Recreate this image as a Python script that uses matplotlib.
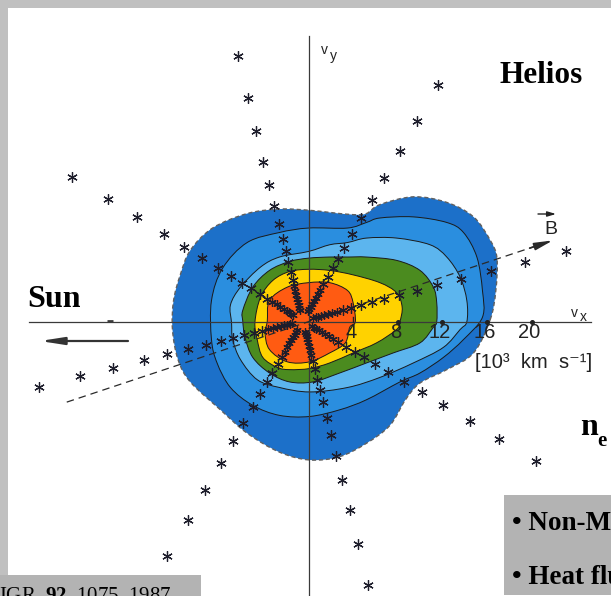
import numpy as np
import matplotlib
matplotlib.use("Agg")
import matplotlib.pyplot as plt
from matplotlib.path import Path
from matplotlib.patches import PathPatch, Rectangle

plt.rcParams['mathtext.fontset'] = 'custom'
plt.rcParams['mathtext.rm'] = 'Liberation Serif'
plt.rcParams['mathtext.bf'] = 'Liberation Serif:bold'

# ---------------- data (velocities in 10^3 km/s) ----------------
contour_1 = [(16.3, 0.2), (16.8, 2.8), (16.9, 5.7), (16.3, 7.3), (14.8, 9.4), (12.4, 10.7),
             (9.4, 11.2), (6.4, 10.5), (5.2, 9.7), (4.0, 9.6), (1.9, 9.8), (0.0, 10.0),
             (-2.6, 10.1), (-5.5, 9.7), (-8.6, 8.4), (-10.6, 6.4), (-11.5, 4.2), (-12.1, 1.9),
             (-12.2, -0.7), (-11.7, -3.4), (-10.6, -5.4), (-7.9, -7.9), (-5.5, -10.0),
             (-2.6, -11.7), (0.1, -12.4), (2.8, -12.1), (5.2, -10.9), (7.3, -9.3),
             (8.7, -7.0), (10.0, -5.5), (12.4, -4.3), (14.8, -2.8)]
contour_2 = [(15.6, 0.4), (15.6, 2.8), (15.1, 5.8), (13.9, 8.0), (12.4, 8.9), (9.4, 9.4),
             (6.4, 9.3), (5.2, 8.9), (3.5, 8.4), (0.0, 8.4), (-2.6, 8.0), (-5.5, 7.1),
             (-7.7, 4.8), (-8.7, 1.9), (-8.7, -1.6), (-8.2, -3.7), (-7.0, -5.9), (-5.0, -7.5),
             (-2.6, -8.4), (0.1, -8.5), (2.8, -7.9), (5.2, -7.0), (8.2, -5.4), (10.0, -4.6),
             (12.1, -3.2), (13.9, -1.6)]
contour_3 = [(14.2, 0.0), (14.2, 1.9), (13.6, 4.0), (12.4, 5.8), (10.9, 6.9), (7.9, 7.5),
             (5.2, 7.5), (3.5, 7.1), (1.9, 6.9), (0.0, 6.3), (-2.6, 5.8), (-4.3, 4.9),
             (-6.1, 3.1), (-7.0, 1.5), (-6.9, -0.1), (-6.8, -1.6), (-6.1, -3.4), (-4.6, -5.2),
             (-2.6, -5.9), (0.1, -6.3), (3.5, -5.9), (6.4, -5.0), (9.4, -3.7), (12.1, -2.3),
             (13.6, -0.7)]
contour_4 = [(11.5, 0.0), (11.5, 1.7), (11.2, 3.1), (10.0, 4.6), (7.9, 5.5), (5.2, 5.8),
             (3.5, 5.8), (1.9, 5.8), (0.0, 5.7), (-1.7, 5.4), (-3.5, 4.6), (-5.0, 3.1),
             (-5.9, 1.0), (-5.9, 0.1), (-5.7, -1.4), (-5.0, -3.2), (-3.5, -4.6), (-1.7, -5.4),
             (0.4, -5.4), (2.8, -4.6), (5.2, -3.7), (7.6, -2.8), (10.0, -1.9), (11.2, -0.5)]
contour_5 = [(8.2, 0.0), (8.4, 1.3), (7.9, 2.6), (6.4, 3.5), (4.0, 4.2), (1.9, 4.6), (0.0, 4.7),
             (-1.7, 4.5), (-3.2, 3.7), (-4.3, 2.2), (-4.8, 0.0), (-4.6, -1.6), (-4.1, -3.2),
             (-2.8, -4.1), (-1.7, -4.3), (0.1, -4.2), (1.9, -3.7), (4.0, -2.8), (6.1, -1.9),
             (7.9, -0.7)]
contour_6 = [(4.2, 0.0), (4.0, 1.7), (3.5, 2.8), (1.9, 3.5), (0.0, 3.5), (-1.9, 3.1),
             (-3.5, 1.9), (-3.7, 0.0), (-3.9, -1.0), (-3.5, -2.5), (-1.9, -3.6), (0.1, -3.6),
             (1.9, -2.8), (3.3, -1.9), (3.7, -0.5)]
contour_colors = ['#1c70c9', '#2a8edf', '#5cb5ee', '#4b8b1f', '#ffd200', '#ff5b12']

ray_angles_deg = [14.8, 60.2, 103.8, 148.0, 194.0, 240.0, 284.0, 329.0]
channel_speeds = [24.4, 20.6, 17.5, 14.7, 12.5, 10.6, 8.95, 7.55, 6.4, 5.45, 4.5, 3.75,
                  3.2, 2.75, 2.35, 2.0, 1.7, 1.45, 1.2, 1.0]
ray_center = (-0.53, 0.09)
b_field_angle_deg = 18.4
vx_ticks = [4, 8, 12, 16, 20]
vx_tick_labels = ['4', '8', '12', '16', '20']

# ---------------- layout ----------------
W, H = 611, 596
ORIGIN = (308.5, 321.7)
SCALE = 11.15  # pixels per unit

fig = plt.figure(figsize=(W / 100, H / 100), dpi=100)
fig.patch.set_facecolor('#c0c0c0')
ax = fig.add_axes([0, 0, 1, 1])
ax.set_xlim(-ORIGIN[0] / SCALE, (W - ORIGIN[0]) / SCALE)
ax.set_ylim(-(H - ORIGIN[1]) / SCALE, ORIGIN[1] / SCALE)
ax.axis('off')
ax.patch.set_visible(False)


def fx(px):
    return px / W


def fy(py):
    return 1 - py / H


serif = ['Liberation Serif', 'DejaVu Serif']
sans = ['Liberation Sans Narrow', 'Liberation Sans', 'DejaVu Sans']

# white panel
ax.add_patch(Rectangle((fx(8), 0), 1 - fx(8), fy(8), transform=ax.transAxes,
                       facecolor='white', edgecolor='none', zorder=0))


def smooth_closed_path(pts):
    P = np.asarray(pts, dtype=float)
    n = len(P)
    verts = [P[0]]
    codes = [Path.MOVETO]
    for i in range(n):
        p0, p1, p2, p3 = P[i - 1], P[i], P[(i + 1) % n], P[(i + 2) % n]
        verts += [p1 + (p2 - p0) / 6.0, p2 - (p3 - p1) / 6.0, p2]
        codes += [Path.CURVE4] * 3
    verts.append(P[0])
    codes.append(Path.CLOSEPOLY)
    return Path(verts, codes)


contours = [contour_1, contour_2, contour_3, contour_4, contour_5, contour_6]
for k, (pts, col) in enumerate(zip(contours, contour_colors)):
    path = smooth_closed_path(pts)
    ax.add_patch(PathPatch(path, facecolor=col, edgecolor='none', zorder=1 + k * 0.1))
    if k == 0:
        ax.add_patch(PathPatch(path, facecolor='none', edgecolor='#606060', lw=1.0,
                               linestyle=(0, (3, 2)), zorder=2))
    else:
        ax.add_patch(PathPatch(path, facecolor='none', edgecolor='#1a1a1a', lw=0.7, zorder=2))

# axes lines
ax.plot([(29 - ORIGIN[0]) / SCALE, (591 - ORIGIN[0]) / SCALE], [0, 0], color='#3a3a3a', lw=0.9, zorder=3)
ax.plot([0, 0], [-26, (ORIGIN[1] - 36) / SCALE], color='#3a3a3a', lw=0.9, zorder=3)
ax.plot([-18.1, -17.5], [0.08, 0.08], color='#3a3a3a', lw=2.0, zorder=3, solid_capstyle='butt')

# tick marks and labels on vx axis
ax.plot(vx_ticks[1:], [0] * (len(vx_ticks) - 1), 'o', ms=2.6, color='#222222', zorder=4)
ax.plot([vx_ticks[0], vx_ticks[0]], [0, 0.45], color='#222222', lw=1.0, zorder=4)
for v, lab in zip(vx_ticks, vx_tick_labels):
    ax.text(v - 0.2, -1.0, lab, ha='center', va='center', fontsize=14.5,
            family=sans, color='#222222', zorder=6)

ax.text(fx(475), fy(362), '[10³  km  s⁻¹]', transform=ax.transAxes, ha='left', va='center',
        fontsize=14.5, family=sans, color='#222222', zorder=6)

# axis names
ax.text(fx(321), fy(54), 'v', transform=ax.transAxes, ha='left', va='baseline',
        fontsize=10, family=sans, color='#222222')
ax.text(fx(330), fy(60), 'y', transform=ax.transAxes, ha='left', va='baseline',
        fontsize=10, family=sans, color='#222222')
ax.text(fx(571), fy(317), 'v', transform=ax.transAxes, ha='left', va='baseline',
        fontsize=10, family=sans, color='#222222')
ax.text(fx(580), fy(321), 'x', transform=ax.transAxes, ha='left', va='baseline',
        fontsize=10, family=sans, color='#222222')

# magnetic field direction (dashed line with arrow head)
ba = np.deg2rad(b_field_angle_deg)
ub = np.array([np.cos(ba), np.sin(ba)])
p_left, p_mid, p_right = -22.85 * ub, 21.4 * ub, 23.1 * ub
ax.plot([p_left[0], p_mid[0]], [p_left[1], p_mid[1]], color='#2a2a2a', lw=0.9,
        linestyle=(0, (6, 4)), zorder=4)
ax.annotate('', xy=tuple(p_right), xytext=tuple(20.9 * ub),
            arrowprops=dict(arrowstyle='-|>,head_length=1.1,head_width=0.22', lw=1.2,
                            color='#2a2a2a', shrinkA=0, shrinkB=0), zorder=4)
ax.text(fx(544), fy(234), 'B', transform=ax.transAxes, ha='left', va='baseline',
        fontsize=14, family=sans, color='#222222')
ax.annotate('', xy=(fx(556), fy(214)), xytext=(fx(538), fy(214)), xycoords='axes fraction',
            textcoords='axes fraction',
            arrowprops=dict(arrowstyle='-|>,head_length=0.5,head_width=0.15', lw=1.0,
                            color='#222222', shrinkA=0, shrinkB=0))

# measurement points along the 8 sectors
for ang in ray_angles_deg:
    a = np.deg2rad(ang)
    outer = [s for s in channel_speeds if s >= 3.5]
    inner = [s for s in channel_speeds if s < 3.5]
    for group, ms in ((outer, 7.5), (inner, 6.0)):
        xs = [ray_center[0] + s * np.cos(a) for s in group]
        ys = [ray_center[1] + s * np.sin(a) for s in group]
        ax.plot(xs, ys, linestyle='none', marker=(6, 2, 0), ms=ms, mew=0.9,
                color='#1e1e2c', zorder=5)

# Sun arrow
ax.annotate('', xy=(fx(40), fy(341)), xytext=(fx(128), fy(341)), xycoords='axes fraction',
            textcoords='axes fraction',
            arrowprops=dict(arrowstyle='-|>,head_length=1.4,head_width=0.22', lw=1.6,
                            color='#333333', shrinkA=0, shrinkB=0))

# big labels
ax.text(fx(499), fy(83), 'Helios', transform=ax.transAxes, ha='left', va='baseline',
        fontsize=22.5, fontweight='bold', family=serif, color='black', zorder=7)
ax.text(fx(27), fy(307), 'Sun', transform=ax.transAxes, ha='left', va='baseline',
        fontsize=23, fontweight='bold', family=serif, color='black', zorder=7)
ax.text(fx(580), fy(435), 'n', transform=ax.transAxes, ha='left', va='baseline',
        fontsize=23, fontweight='bold', family=serif, color='black', zorder=7)
ax.text(fx(597), fy(446), 'e', transform=ax.transAxes, ha='left', va='baseline',
        fontsize=15, fontweight='bold', family=serif, color='black', zorder=7)

# gray boxes
ax.add_patch(Rectangle((0, 0), fx(201), fy(575), transform=ax.transAxes,
                       facecolor='#b3b3b3', edgecolor='none', zorder=6))
ax.add_patch(Rectangle((fx(504), fy(595)), 1 - fx(504), fy(495) - fy(595), transform=ax.transAxes,
                       facecolor='#b3b3b3', edgecolor='none', zorder=6))

ax.text(fx(512), fy(530), '• Non-Maxwellian', transform=ax.transAxes, ha='left', va='baseline',
        fontsize=19.5, fontweight='bold', family=serif, color='black', zorder=7)
ax.text(fx(512), fy(584), '• Heat flux', transform=ax.transAxes, ha='left', va='baseline',
        fontsize=19.5, fontweight='bold', family=serif, color='black', zorder=7)

ax.text(fx(-1), fy(601), r'IGR, $\mathbf{92}$, 1075, 1987', transform=ax.transAxes,
        ha='left', va='baseline', fontsize=15, family=serif, color='black', zorder=7)

fig.savefig('out.png', dpi=100, facecolor=fig.get_facecolor())
